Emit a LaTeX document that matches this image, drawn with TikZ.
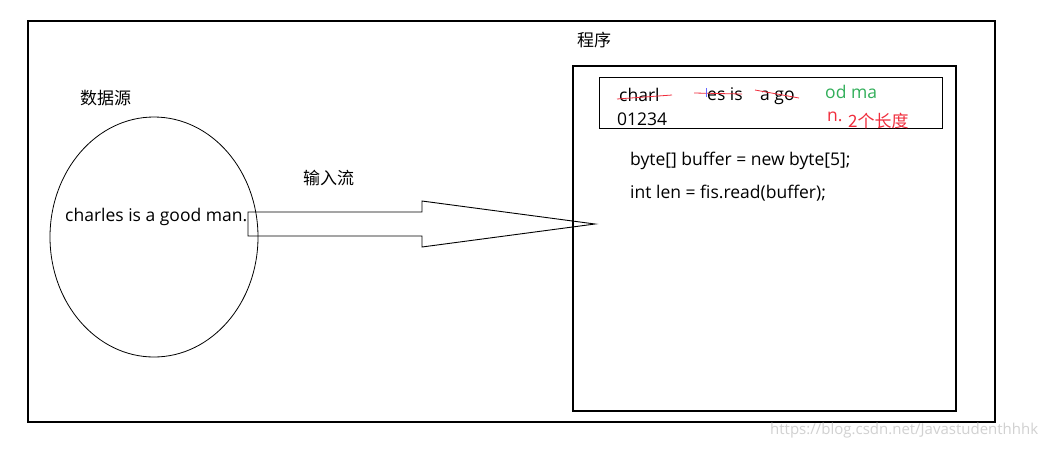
\documentclass[tikz,border=0pt]{standalone}
\usepackage{fontspec}
\setmainfont{Open Sans}
\newfontfamily\cjk{Noto Sans CJK SC}
\definecolor{okgreen}{RGB}{50,175,90}
\definecolor{markred}{RGB}{240,45,60}
\begin{document}
\begin{tikzpicture}[x=1pt,y=-1pt,
  lbl/.style={inner sep=0pt,anchor=west,font=\fontsize{17.5}{20}\selectfont},
  cjklbl/.style={inner sep=0pt,anchor=west,font=\cjk\fontsize{17}{20}\selectfont},
  frame/.style={draw=black,line width=1.2pt},
  strike/.style={draw=markred,line width=0.8pt}]
\useasboundingbox (0,0) rectangle (1046,448);
\fill[white] (0,0) rectangle (1046,448);
% outer frame
\draw[frame] (28,21) rectangle (995,422);
% program box
\draw[frame] (573,66) rectangle (956,411);
\node[cjklbl] (prog) at (577,40) {程序};
% buffer box
\draw[line width=0.9pt] (599,77) rectangle (942,128);
\node[lbl,anchor=base west] (t1) at (619,101) {charl};
\node[lbl,anchor=base west] (t2) at (707,100) {es is};
\node[lbl,anchor=base west] (t3) at (760,100) {a go};
\node[lbl,anchor=base west,text=okgreen] (t4) at (825,98) {od ma};
\node[lbl] (t5) at (617,119) {01234};
\node[lbl,text=markred] (t6) at (827,117) {n.};
\node[cjklbl,text=markred] (t7) at (848,121) {2个长度};
\draw[strike] (617,99) -- (672,95);
\draw[strike] (694,93) -- (742,94);
\draw[strike] (755,90) -- (799,98);
\draw[blue!60,line width=0.6pt] (706,88) -- (706,97);
% code
\node[lbl] (c1) at (630,161) {byte[] buffer = new byte[5];};
\node[lbl] (c2) at (630,193) {int len = fis.read(buffer);};
% data source
\node[cjklbl] (src) at (80,98) {数据源};
\draw[line width=0.8pt] (154,237) ellipse [x radius=104, y radius=120];
\node[lbl] (data) at (65,217) {charles is a good man.};
\node[cjklbl] (stream) at (303,178) {输入流};
% big arrow
\draw[line width=0.9pt]
  (248,212) -- (422,212) -- (422,201) -- (595,224) -- (422,247) -- (422,236) -- (248,236) -- cycle;
% watermark
\node[lbl,font=\fontsize{15}{18}\selectfont,text=black!18] (wm) at (770,431) {https://blog.csdn.net/Javastudenthhhk};
\end{tikzpicture}
\end{document}
